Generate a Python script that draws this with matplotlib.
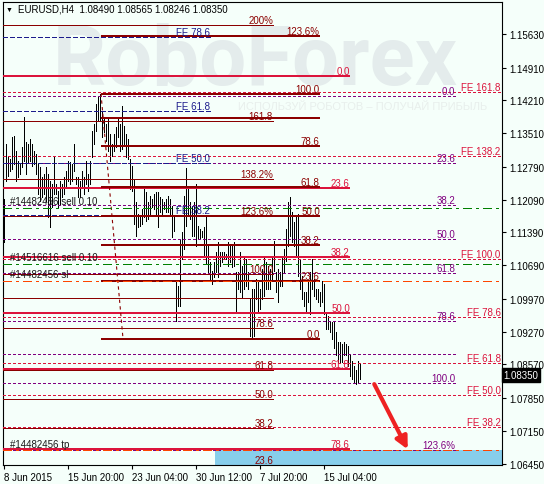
import matplotlib.pyplot as plt
from matplotlib.patches import Rectangle
import numpy as np

plt.rcParams['font.family'] = ['Liberation Sans', 'DejaVu Sans']

BG = '#f5fffa'

# EURUSD H4 bars (high / low)
highs = [1.1211, 1.1328, 1.1303, 1.1296, 1.1343, 1.1345, 1.1313, 1.1292, 1.1285, 1.1322,
         1.1386, 1.1332, 1.1328, 1.1339, 1.1328, 1.1313, 1.1307, 1.1285, 1.1279, 1.1258,
         1.1264, 1.1279, 1.1264, 1.1249, 1.1243, 1.1300, 1.1243, 1.1228, 1.1249, 1.1243,
         1.1258, 1.1270, 1.1292, 1.1290, 1.1285, 1.1328, 1.1258, 1.1258, 1.1249, 1.1270,
         1.1258, 1.1292, 1.1264, 1.1292,
         1.1356, 1.1371, 1.1414, 1.1428, 1.1435, 1.1399, 1.1386, 1.1371, 1.1386, 1.1350,
         1.1328, 1.1350, 1.1364, 1.1386, 1.1371,
         1.1409, 1.1367, 1.1350, 1.1339,
         1.1296, 1.1281, 1.1253, 1.1204, 1.1179, 1.1174, 1.1189, 1.1232, 1.1226, 1.1204,
         1.1217, 1.1211, 1.1221, 1.1226, 1.1226, 1.1215, 1.1211, 1.1204, 1.1211, 1.1217,
         1.1211, 1.1196, 1.1172,
         1.1034, 1.1025, 1.1125, 1.1140, 1.1217, 1.1277, 1.1239, 1.1204, 1.1196, 1.1204,
         1.1243, 1.1153, 1.1147, 1.1142, 1.1151, 1.1172, 1.1110, 1.1076, 1.1057, 1.1076,
         1.1098, 1.1119, 1.1098, 1.1098, 1.1098, 1.1093, 1.1119, 1.1115, 1.1110, 1.1119,
         1.1055, 1.1055, 1.1098, 1.1068,
         1.1089, 1.1083, 1.1055, 1.0997, 1.1019, 1.1019, 1.1040, 1.1034, 1.1019, 1.1061,
         1.1089, 1.1076, 1.1068, 1.1061, 1.1089, 1.1121, 1.1055, 1.1061, 1.1055, 1.1089,
         1.1104, 1.1147, 1.1204, 1.1215, 1.1183, 1.1162, 1.1174, 1.1179, 1.1083, 1.1046,
         1.1012, 1.1012, 1.1034, 1.1055, 1.1083, 1.1040, 1.1019, 1.1019, 1.1012, 1.1034,
         1.1029, 1.0969, 1.0961, 1.0950, 1.0948, 1.0948, 1.0927, 1.0905, 1.0905, 1.0901,
         1.0905, 1.0901, 1.0897, 1.0876, 1.0865, 1.0854, 1.0844, 1.0865, 1.0857]
lows = [1.1119, 1.1249, 1.1260, 1.1270, 1.1275, 1.1285, 1.1249, 1.1258, 1.1264, 1.1279,
        1.1292, 1.1264, 1.1290, 1.1292, 1.1281, 1.1285, 1.1264, 1.1221, 1.1206, 1.1215,
        1.1221, 1.1206, 1.1172, 1.1151, 1.1194, 1.1221, 1.1221, 1.1194, 1.1200, 1.1215,
        1.1221, 1.1236, 1.1249, 1.1243, 1.1249, 1.1270, 1.1243, 1.1215, 1.1215, 1.1236,
        1.1221, 1.1243, 1.1228, 1.1243,
        1.1300, 1.1328, 1.1356, 1.1377, 1.1377, 1.1343, 1.1354, 1.1335, 1.1313, 1.1292,
        1.1303, 1.1313, 1.1322, 1.1343, 1.1313,
        1.1318, 1.1324, 1.1300, 1.1296,
        1.1232, 1.1228, 1.1157, 1.1132, 1.1151, 1.1153, 1.1157, 1.1172, 1.1164, 1.1168,
        1.1179, 1.1194, 1.1189, 1.1174, 1.1151, 1.1183, 1.1174, 1.1189, 1.1183, 1.1183,
        1.1174, 1.1130, 1.1142,
        1.0950, 1.0982, 1.0982, 1.1083, 1.1104, 1.1153, 1.1174, 1.1168, 1.1132, 1.1132,
        1.1110, 1.1125, 1.1125, 1.1130, 1.1089, 1.1072, 1.1055, 1.1040, 1.1029, 1.1044,
        1.1055, 1.1044, 1.1068, 1.1076, 1.1083, 1.1083, 1.1068, 1.1076, 1.1066, 1.1068,
        1.0969, 1.1019, 1.1012, 1.1001,
        1.1019, 1.1025, 1.1019, 1.0918, 1.0916, 1.0918, 1.0997, 1.0969, 1.0976, 1.0997,
        1.1004, 1.1019, 1.1019, 1.1019, 1.1040, 1.1057, 1.1012, 1.0991, 1.1025, 1.1025,
        1.1055, 1.1078, 1.1110, 1.1132, 1.1119, 1.1110, 1.1089, 1.1046, 1.1019, 1.0997,
        1.0982, 1.0969, 1.0991, 1.0965, 1.1019, 1.1004, 1.0997, 1.0991, 1.0982, 1.0991,
        1.0965, 1.0933, 1.0933, 1.0927, 1.0912, 1.0891, 1.0876, 1.0863, 1.0863, 1.0863,
        1.0876, 1.0876, 1.0854, 1.0833, 1.0826, 1.0820, 1.0816, 1.0820, 1.0825]
last_price = 1.08350

price_ticks = [1.15630, 1.14910, 1.14210, 1.13510, 1.12790, 1.12090, 1.11390,
               1.10690, 1.09970, 1.09270, 1.08570, 1.07850, 1.07150, 1.06450]
time_ticks = [0, 32, 64, 96, 128, 160]
time_labels = ['8 Jun 2015', '15 Jun 20:00', '23 Jun 04:00', '30 Jun 12:00',
               '7 Jul 20:00', '15 Jul 04:00']

# fibonacci objects: anchor prices (0% / 100%), ratios, labels
ret_big = (1.0912, 1.1435)
ret_big_r = [0, 0.236, 0.382, 0.5, 0.618, 0.786, 0.902, 1.0, 1.236]
ret_big_l = ['0.0', '23.6', '38.2', '50.0', '61.8', '78.6', '', '100.0', '123.6%']

ret_thin = (1.0517, 1.1049)
ret_thin_r = [0.236, 0.382, 0.5, 0.618, 0.786, 0.904, 1.0, 1.236, 1.382, 1.618, 2.0]
ret_thin_l = ['23.6', '38.2', '50.0', '61.8', '78.6', '', '100.0', '123.6%', '138.2%', '161.8', '200%']

ret_red = (1.1473, 1.0459)
ret_red_r = [0, 0.236, 0.382, 0.5, 0.618, 0.786]
ret_red_l = ['0.0', '23.6', '38.2', '50.0', '61.8', '78.6']

ret_purple = (1.1431, 1.0818)
ret_purple_r = [0, 0.236, 0.382, 0.5, 0.618, 0.786, 0.9, 1.0, 1.236]
ret_purple_l = ['0.0', '23.6', '38.2', '50.0', '61.8', '78.6', '', '100.0', '123.6%']

fe_red = (1.0502, 1.1081)
fe_red_r = [0.382, 0.5, 0.618, 0.786, 1.0, 1.382, 1.618]
fe_red_l = ['FE 38.2', 'FE 50.0', 'FE 61.8', 'FE 78.6', 'FE 100.0', 'FE 138.2', 'FE 161.8']

fe_blue = (1.0814, 1.1759)
fe_blue_r = [0.382, 0.5, 0.618, 0.786]
fe_blue_l = ['FE 38.2', 'FE 50.0', 'FE 61.8', 'FE 78.6']

orders = [1.1192, 1.1072, 1.1036, 1.0673]
order_labels = ['#14482456 sell 0.10', '#14516616 sell 0.10', '#14482456 sl', '#14482456 tp']
order_colors = ['#008000', '#008000', '#ff4500', '#ff4500']

fig = plt.figure(figsize=(5.44, 4.85), dpi=100, facecolor=BG)
ax = fig.add_axes([3 / 544, 19 / 485, 499 / 544, 463 / 485], facecolor=BG)
ax.set_xlim(-0.4, 249.1)
ax.set_ylim(1.0642, 1.1631)

# watermark
ax.text(0.505, 0.872, 'RoboForex', transform=ax.transAxes, fontsize=60, family='Roboto',
        weight='bold', color='#e4ecec', ha='center', va='center', zorder=0)
ax.text(0.72, 0.775, 'ИСПОЛЬЗУЙ РОБОТОВ – ПОЛУЧАЙ ПРИБЫЛЬ', transform=ax.transAxes,
        fontsize=8, color='#e8efec', ha='center', va='center', zorder=0)

ax.add_patch(Rectangle((105.6, 1.0600), 200, orders[3] - 1.0600,
                       facecolor='#87ceeb', edgecolor='none', zorder=1))

ax.vlines(np.arange(len(highs)), lows, highs, color='black', lw=0.5,
          antialiased=False, zorder=3)


def fib(anchor, ratios, labels, x0, x1, color, lw, ls):
    p0, p100 = anchor
    for r, lab in zip(ratios, labels):
        price = p0 + r * (p100 - p0)
        ax.hlines(price, x0, x1, colors=color, lw=lw, linestyles=ls,
                  antialiased=False, zorder=4)
        if lab:
            ax.text(x1, price, lab, ha='right', va='bottom', fontsize=7,
                    color=color, zorder=6)


fib(ret_thin, ret_thin_r, ret_thin_l, -0.4, 134.6, '#8b0000', 0.5, 'solid')
fib(ret_purple, ret_purple_r, ret_purple_l, -0.4, 225.6, '#800080', 0.5, (0, (4, 4)))
fib(fe_red, fe_red_r, fe_red_l, -0.4, 248.4, '#dc143c', 0.5, (0, (4, 4)))
fib(fe_blue, fe_blue_r, fe_blue_l, -0.4, 103.0, '#1c1c8c', 0.5, (0, (6, 4)))
fib(ret_red, ret_red_r, ret_red_l, -0.4, 173.0, '#dc143c', 1.3, 'solid')
fib(ret_big, ret_big_r, ret_big_l, 48.6, 158.0, '#8b0000', 1.3, 'solid')

# retracement diagonal
ax.plot([48.6, 59.6], [ret_big[1], ret_big[0]], color='#8b0000', lw=0.8,
        ls=(0, (3, 3)), zorder=4)

for price, lab, col in zip(orders, order_labels, order_colors):
    ax.axhline(price, color=col, lw=0.5, ls=(0, (12, 6, 3, 6)), antialiased=False, zorder=4)
    ax.text(3.1, price + 0.0003, lab, fontsize=7, color='#1a1a1a', va='bottom', zorder=6)

ax.annotate('', xy=(202.6, 1.0670), xytext=(184.6, 1.0820),
            arrowprops=dict(arrowstyle='-|>', color='#ee2222', lw=3, mutation_scale=18),
            zorder=7)

ax.yaxis.tick_right()
ax.set_yticks(price_ticks)
ax.set_yticklabels([f'{v:.5f}' for v in price_ticks])
ax.tick_params(axis='y', direction='out', length=3, width=0.8, labelsize=7, pad=2)
ax.set_xticks(time_ticks)
ax.set_xticklabels(time_labels, ha='left')
ax.tick_params(axis='x', direction='out', length=3, width=0.8, labelsize=7, pad=2)
for s in ax.spines.values():
    s.set_color('black')
    s.set_linewidth(0.8)

ax.text(1.003, last_price, f'{last_price:.5f}', transform=ax.get_yaxis_transform(),
        color='white', fontsize=7, ha='left', va='center', clip_on=False, zorder=10,
        bbox=dict(boxstyle='square,pad=0.2', fc='black', ec='black'))

fig.text(6 / 544, 1 - 10 / 485, '▼', fontsize=5, va='center')
fig.text(18 / 544, 1 - 10 / 485, 'EURUSD,H4  1.08490 1.08565 1.08246 1.08350',
         fontsize=7, va='center')

fig.savefig('out.png', dpi=100, facecolor=BG)
